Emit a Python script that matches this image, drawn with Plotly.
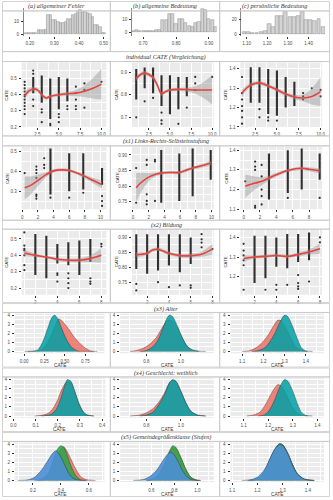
import plotly.graph_objects as go

# ---------------- DATA ----------------
# Row 0: histograms (bin centres, counts)
histA_x = [0.185,0.195,0.205,0.215,0.225,0.235,0.245,0.255,0.265,0.275,0.285,0.295,0.305,0.315,0.325,0.335,0.345,
           0.355,0.365,0.375,0.385,0.395,0.405,0.415,0.425,0.435,0.445,0.455,0.465,0.475,0.485,0.495,0.505]
histA_n = [1,1,1,1,1,3,3,3,3,15,15,11,11,10,9,9,10,12,12,15,16,18,19,18,18,17,16,14,7,7,6,1,1]
histB_x = [0.67,0.68,0.69,0.70,0.71,0.72,0.73,0.74,0.75,0.76,0.77,0.78,0.79,0.80,0.81,0.82,0.83,0.84,0.85,0.86,
           0.87,0.88,0.89,0.90,0.91,0.92]
histB_n = [1,2,1,1,1,1,1,2,2,9,9,14,14,6,10,10,7,5,4,7,8,18,17,10,9,4]
histC_x = [1.09,1.11,1.13,1.15,1.17,1.19,1.21,1.23,1.25,1.27,1.29,1.31,1.33,1.35,1.37,1.39,1.41,1.43,1.45,1.47]
histC_n = [3,3,2,2,3,4,14,9,24,24,29,23,23,24,29,19,19,18,20,10]

# Scatter panels: dense point columns (x, low, high), single points, loess fit (x, y, se)
r1p1_cx = [2,3,4,5,6]
r1p1_lo = [0.41,0.35,0.25,0.31,0.36]
r1p1_hi = [0.51,0.52,0.50,0.51,0.50]
r1p1_ex = [1,1,1,1,1,1,1,1,1,1,1,2,2,2,2,3,3,3,4,4,5,5,5,6,6,7,7,7,7,7,8,8,8,10]
r1p1_ey = [0.48,0.46,0.44,0.42,0.40,0.39,0.37,0.35,0.33,0.31,0.28,0.55,0.53,0.37,0.33,0.31,0.29,0.23,0.22,0.21,
           0.28,0.26,0.23,0.33,0.31,0.45,0.41,0.37,0.33,0.31,0.47,0.43,0.32,0.48]
r1p1_fx = [1,1.5,2,2.5,3,3.5,4,5,6,7,8,9,10]
r1p1_fy = [0.394,0.424,0.436,0.43,0.40,0.38,0.39,0.40,0.406,0.41,0.422,0.44,0.466]
r1p1_se = [0.03,0.016,0.014,0.014,0.012,0.01,0.01,0.01,0.012,0.02,0.036,0.064,0.096]

r1p2_cx = [1,2,3,4,5,6,7]
r1p2_lo = [0.779,0.829,0.807,0.75,0.714,0.736,0.793]
r1p2_hi = [0.914,0.921,0.921,0.886,0.886,0.879,0.879]
r1p2_ex = [1,2,3,4,4,4,6,7,8,8,8,10]
r1p2_ey = [0.70,0.771,0.786,0.721,0.686,0.671,0.671,0.743,0.879,0.85,0.821,0.879]
r1p2_fx = [1,1.5,2,2.5,3,3.5,4,4.5,5,6,7,8,9,10]
r1p2_fy = [0.871,0.89,0.896,0.89,0.876,0.843,0.804,0.814,0.821,0.824,0.823,0.821,0.821,0.821]
r1p2_se = [0.011,0.009,0.009,0.009,0.009,0.009,0.009,0.007,0.007,0.007,0.009,0.017,0.036,0.064]

r1p3_cx = [2,3,4,5,6,7]
r1p3_lo = [1.225,1.225,1.167,1.158,1.2,1.208]
r1p3_hi = [1.408,1.408,1.40,1.392,1.358,1.333]
r1p3_ex = [1,1,1,1,1,1,1,3,3,4,4,5,8,8,8,9,10,10]
r1p3_ey = [1.358,1.275,1.242,1.208,1.183,1.15,1.117,1.192,1.15,1.15,1.133,1.133,1.275,1.258,1.242,1.30,1.292,1.258]
r1p3_fx = [1,1.5,2,2.5,3,3.5,4,5,6,7,8,9,10]
r1p3_fy = [1.275,1.30,1.317,1.325,1.328,1.322,1.312,1.292,1.27,1.255,1.25,1.258,1.283]
r1p3_se = [0.02,0.013,0.012,0.01,0.01,0.01,0.01,0.01,0.01,0.012,0.017,0.042,0.075]

r2p1_cx = [3.6,6.0,7.8,10.2]
r2p1_lo = [0.283,0.30,0.308,0.333]
r2p1_hi = [0.517,0.492,0.492,0.417]
r2p1_ex = [0.3,1.8,1.8,1.8,1.8,1.8,1.8,1.8,2.8,2.8,2.8,3.6,6.0,7.8,10.2,10.2,10.2]
r2p1_ey = [0.392,0.425,0.408,0.392,0.367,0.283,0.275,0.262,0.467,0.433,0.417,0.267,0.267,0.292,0.275,0.25,0.225]
r2p1_fx = [0.3,1,2,3,4,5,6,7,8,9,10.2]
r2p1_fy = [0.317,0.328,0.355,0.383,0.403,0.408,0.405,0.392,0.375,0.355,0.333]
r2p1_se = [0.058,0.047,0.03,0.013,0.008,0.008,0.008,0.008,0.01,0.013,0.02]

r2p2_cx = [3.6,5.9,7.6,9.9]
r2p2_lo = [0.747,0.753,0.768,0.821]
r2p2_hi = [0.916,0.905,0.921,0.916]
r2p2_ex = [0.4,0.4,1.75,1.75,1.75,1.75,1.75,2.8,2.8,2.8]
r2p2_ey = [0.858,0.747,0.774,0.753,0.742,0.884,0.868,0.884,0.879,0.753]
r2p2_fx = [0.4,1,2,3,3.6,4.5,5.9,7,7.6,9,9.9]
r2p2_fy = [0.795,0.811,0.829,0.839,0.842,0.844,0.844,0.853,0.858,0.867,0.874]
r2p2_se = [0.047,0.032,0.013,0.006,0.005,0.005,0.005,0.005,0.005,0.006,0.008]

r2p3_cx = [3.1,5.4,7.1,9.3]
r2p3_lo = [1.15,1.183,1.2,1.25]
r2p3_hi = [1.383,1.40,1.408,1.383]
r2p3_ex = [0.2,1.4,1.4,1.4,1.4,1.4,2.2,2.2,2.2,2.2,2.2,5.4,9.3]
r2p3_ey = [1.242,1.342,1.317,1.30,1.117,1.108,1.325,1.267,1.20,1.167,1.125,1.158,1.158]
r2p3_fx = [0.2,1.4,2.2,3.1,4,5.4,7.1,8,9.3]
r2p3_fy = [1.217,1.233,1.242,1.258,1.275,1.297,1.308,1.303,1.295]
r2p3_se = [0.058,0.033,0.02,0.012,0.01,0.008,0.008,0.01,0.013]

r3p1_cx = [2,3,4,5,6,7]
r3p1_lo = [0.28,0.26,0.35,0.34,0.28,0.36]
r3p1_hi = [0.53,0.52,0.47,0.48,0.49,0.50]
r3p1_ex = [1,1,1,1,1,1,1,4,4,4,5,5,5,5,7,7,7,8,8]
r3p1_ey = [0.54,0.46,0.44,0.43,0.40,0.34,0.31,0.29,0.28,0.24,0.29,0.26,0.23,0.20,0.26,0.24,0.226,0.47,0.454]
r3p1_fx = [1,2,3,4,5,6,7,8]
r3p1_fy = [0.414,0.40,0.39,0.376,0.37,0.37,0.38,0.40]
r3p1_se = [0.02,0.01,0.008,0.01,0.01,0.012,0.02,0.044]

r3p2_cx = [1,2,3,4,5,6]
r3p2_lo = [0.794,0.778,0.789,0.806,0.783,0.811]
r3p2_hi = [0.911,0.911,0.911,0.911,0.911,0.90]
r3p2_ex = [1,1,3,4,5,6,6,7,7,7,7,8]
r3p2_ey = [0.744,0.722,0.75,0.733,0.739,0.739,0.731,0.911,0.894,0.883,0.867,0.861]
r3p2_fx = [1,2,2.5,3,4,5,6,7,8]
r3p2_fy = [0.842,0.847,0.858,0.86,0.847,0.839,0.839,0.844,0.861]
r3p2_se = [0.009,0.006,0.006,0.006,0.006,0.006,0.007,0.009,0.018]

r3p3_cx = [2,3,4,5,6,7]
r3p3_lo = [1.167,1.192,1.25,1.242,1.275,1.283]
r3p3_hi = [1.408,1.408,1.40,1.417,1.417,1.425]
r3p3_ex = [1,1,1,1,1,1,3,4,4,5,6,6,6,6,7,8,8]
r3p3_ey = [1.367,1.333,1.308,1.283,1.258,1.133,1.133,1.158,1.133,1.158,1.208,1.167,1.15,1.137,1.175,1.40,1.375]
r3p3_fx = [1,2,3,4,5,6,7,8]
r3p3_fy = [1.292,1.30,1.303,1.308,1.303,1.313,1.325,1.342]
r3p3_se = [0.017,0.008,0.008,0.008,0.008,0.01,0.013,0.025]

# Density panels (x, density)
r4p1_red_x = [0.008,0.129,0.21,0.29,0.351,0.411,0.431,0.492,0.552,0.613,0.694,0.754,0.815,0.895]
r4p1_red_y = [0,0.04,0.15,1.02,2.18,3.45,3.56,3.09,2.4,1.6,0.8,0.36,0.07,0]
r4p1_tea_x = [0.048,0.109,0.169,0.230,0.290,0.331,0.371,0.411,0.452,0.512,0.573,0.653,0.734,0.855]
r4p1_tea_y = [0,0.04,0.18,1.09,2.55,3.56,4.0,3.64,2.73,1.45,0.55,0.07,0.01,0]

r4p2_red_x = [0.705,0.743,0.781,0.819,0.857,0.895,0.924,0.952,0.981,1.01,1.038,1.067,1.105]
r4p2_red_y = [0,0.11,0.36,0.8,1.53,2.73,3.45,3.35,2.55,1.38,0.51,0.15,0]
r4p2_tea_x = [0.762,0.8,0.838,0.867,0.895,0.914,0.933,0.952,0.981,1.01,1.038,1.067,1.105,1.143]
r4p2_tea_y = [0,0.11,0.55,1.27,2.55,3.45,4.0,3.82,2.73,1.45,0.55,0.18,0.04,0]

r4p3_red_x = [1.1,1.131,1.162,1.192,1.223,1.246,1.269,1.285,1.308,1.331,1.354,1.377,1.408]
r4p3_red_y = [0,0.07,0.36,0.91,1.82,2.73,3.45,3.35,2.47,1.38,0.51,0.11,0]
r4p3_tea_x = [1.146,1.177,1.208,1.231,1.254,1.277,1.3,1.315,1.338,1.362,1.38,1.4,1.431]
r4p3_tea_y = [0,0.11,0.44,1.09,2.0,3.2,4.0,3.82,2.73,1.27,0.36,0.07,0]

r5p1_red_x = [0.096,0.126,0.156,0.178,0.197,0.215,0.233,0.244,0.259,0.277,0.296,0.316,0.333,0.363]
r5p1_red_y = [0,0.07,0.29,0.8,1.64,2.73,3.56,3.82,3.71,2.62,1.31,0.4,0.11,0]
r5p1_tea_x = [0.126,0.141,0.17,0.193,0.212,0.23,0.244,0.259,0.277,0.296,0.316,0.333,0.363]
r5p1_tea_y = [0,0.04,0.18,0.73,1.82,3.2,4.0,3.82,2.73,1.38,0.44,0.11,0]

r5p2_red_x = [0.705,0.762,0.8,0.838,0.876,0.905,0.933,0.952,0.971,1.0,1.029,1.057,1.095,1.143]
r5p2_red_y = [0,0.11,0.36,0.8,1.64,2.55,3.64,3.93,3.78,2.69,1.42,0.51,0.11,0]
r5p2_tea_x = [0.762,0.8,0.838,0.876,0.905,0.933,0.952,0.971,1.0,1.029,1.057,1.095,1.143]
r5p2_tea_y = [0,0.11,0.44,1.38,2.36,3.64,4.0,3.82,2.73,1.45,0.55,0.11,0]

r5p3_red_x = [1.113,1.14,1.167,1.187,1.207,1.224,1.24,1.256,1.273,1.293,1.313,1.333,1.36]
r5p3_red_y = [0,0.11,0.44,1.16,2.18,2.98,3.45,3.2,2.36,1.27,0.44,0.11,0]
r5p3_tea_x = [1.16,1.187,1.207,1.227,1.247,1.267,1.28,1.3,1.32,1.336,1.353,1.38]
r5p3_tea_y = [0,0.15,0.73,1.82,3.2,4.0,3.82,2.73,1.27,0.36,0.07,0]

r6p1_red_x = [0.235,0.282,0.329,0.365,0.4,0.419,0.442,0.471,0.506,0.541,0.576,0.612,0.647]
r6p1_red_y = [0,0.11,0.73,2.0,3.45,3.71,3.27,2.36,1.27,0.44,0.11,0.04,0]
r6p1_grn_x = [0.212,0.259,0.306,0.341,0.376,0.4,0.424,0.447,0.471,0.506,0.541,0.576]
r6p1_grn_y = [0,0.11,0.73,2.0,3.45,3.82,3.56,2.73,1.64,0.55,0.07,0]
r6p1_blu_x = [0.094,0.165,0.212,0.259,0.306,0.341,0.365,0.388,0.424,0.459,0.494,0.541,0.588]
r6p1_blu_y = [0,0.07,0.36,1.09,2.18,2.98,3.27,2.91,1.82,0.73,0.18,0.04,0]

r6p2_red_x = [0.557,0.614,0.671,0.714,0.757,0.786,0.814,0.857,0.9,0.943,0.986,1.029]
r6p2_red_y = [0,0.15,0.73,1.75,3.09,3.64,3.49,2.47,1.2,0.36,0.07,0]
r6p2_grn_x = [0.557,0.614,0.671,0.714,0.757,0.786,0.814,0.857,0.9,0.943,0.986,1.029]
r6p2_grn_y = [0,0.15,0.8,1.82,3.2,3.82,3.64,2.55,1.27,0.36,0.07,0]
r6p2_blu_x = [0.443,0.529,0.586,0.643,0.7,0.743,0.757,0.786,0.829,0.871,0.914,0.957,1.014]
r6p2_blu_y = [0,0.11,0.44,1.09,2.18,2.91,3.09,2.98,2.18,1.09,0.36,0.07,0]

r6p3_red_x = [1.165,1.191,1.217,1.236,1.256,1.275,1.288,1.301,1.321,1.34,1.36,1.386,1.425]
r6p3_red_y = [0,0.11,0.51,1.4,2.69,3.64,4.0,3.89,2.95,1.71,0.69,0.15,0]
r6p3_grn_x = [1.165,1.191,1.217,1.236,1.256,1.275,1.288,1.301,1.321,1.34,1.36,1.386,1.425]
r6p3_grn_y = [0,0.11,0.55,1.45,2.73,3.71,4.07,3.93,2.98,1.71,0.69,0.15,0]
r6p3_blu_x = [1.139,1.178,1.204,1.23,1.249,1.269,1.288,1.301,1.321,1.34,1.36,1.386,1.425]
r6p3_blu_y = [0,0.11,0.44,1.27,2.36,3.45,3.93,3.82,2.91,1.64,0.65,0.15,0]

hist_titles = ["(a) allgemeiner Fehler", "(b) allgemeine Bedeutung", "(c) persönliche Bedeutung"]
row_titles = ["individual CATE (Vergleichung)", "(x1) Links-Rechts-Selbsteinstufung", "(x2) Bildung",
              "(x3) Alter", "(x4) Geschlecht: weiblich", "(x5) Gemeindegrößenklasse (Stufen)"]

# ---------------- FIGURE ----------------
W, H = 333, 500
fig = go.Figure()
lay = {}
shapes = []
annots = []
cnt = [0]
TF = dict(family="Liberation Sans", size=4.5, color="#4D4D4D")
GREY_BG = "#EBEBEB"


def mids(v):
    if len(v) < 2:
        return []
    st = v[1] - v[0]
    ext = [v[0] - st] + list(v) + [v[-1] + st]
    return [(a + b) / 2 for a, b in zip(ext[:-1], ext[1:])]


def add_axes(xpx, ypx, xr, yr, xt, yt, xf, yf, grid=True, bg=GREY_BG):
    cnt[0] += 1
    n = cnt[0]
    s = "" if n == 1 else str(n)
    common = dict(showline=False, zeroline=False, ticks="outside", ticklen=2, tickwidth=0.5,
                  tickcolor="#333333", tickfont=TF, fixedrange=True, showgrid=grid,
                  gridcolor="white", gridwidth=0.7, ticklabelstandoff=1)
    xa = dict(common, domain=[xpx[0] / W, xpx[1] / W], range=xr, anchor="y" + s,
              tickmode="array", tickvals=xt, tickformat=xf)
    ya = dict(common, domain=[1 - ypx[1] / H, 1 - ypx[0] / H], range=yr, anchor="x" + s,
              tickmode="array", tickvals=yt, tickformat=yf)
    if grid:
        xa["minor"] = dict(showgrid=True, gridcolor="white", gridwidth=0.35, tickmode="array", tickvals=mids(xt))
        ya["minor"] = dict(showgrid=True, gridcolor="white", gridwidth=0.35, tickmode="array", tickvals=mids(yt))
    lay["xaxis" + s] = xa
    lay["yaxis" + s] = ya
    shapes.append(dict(type="rect", xref="x" + s + " domain", yref="y" + s + " domain",
                       x0=0, x1=1, y0=0, y1=1, fillcolor=bg, line=dict(width=0), layer="below"))
    return "x" + s, "y" + s


def label(text, xpx, ypx, size=4.6, angle=0):
    annots.append(dict(text=text, x=xpx / W, y=1 - ypx / H, xref="paper", yref="paper",
                       xanchor="center", yanchor="middle", showarrow=False, textangle=angle, borderpad=0,
                       font=dict(family="Liberation Sans", size=size, color="#333")))


def hist_panel(xpx, xr, yr, xt, yt, bx, bn, w):
    xa, ya = add_axes(xpx, (7, 35), xr, yr, xt, yt, ".2f", "d", grid=False, bg="white")
    lay["yaxis" + xa[1:]]["showline"] = True
    lay["yaxis" + xa[1:]]["linecolor"] = "#888"
    lay["yaxis" + xa[1:]]["linewidth"] = 0.5
    fig.add_trace(go.Bar(x=bx, y=bn, width=w, marker=dict(color="#D3D3D3", line=dict(color="#8C8C8C", width=0.5)),
                         xaxis=xa, yaxis=ya, showlegend=False, hoverinfo="skip"))


def scatter_panel(xpx, ypx, xr, yr, xt, yt, xf, yf, cx, lo, hi, ex, ey, fx, fy, se):
    xa, ya = add_axes(xpx, ypx, xr, yr, xt, yt, xf, yf)
    sx, sy = [], []
    for c, a, b in zip(cx, lo, hi):
        sx += [c, c, None]
        sy += [a, b, None]
    fig.add_trace(go.Scatter(x=sx, y=sy, mode="lines", line=dict(color="rgba(25,25,25,0.9)", width=2.1),
                             xaxis=xa, yaxis=ya, showlegend=False, hoverinfo="skip"))
    fig.add_trace(go.Scatter(x=ex, y=ey, mode="markers", marker=dict(color="rgba(25,25,25,0.9)", size=2.2),
                             xaxis=xa, yaxis=ya, showlegend=False, hoverinfo="skip"))
    up = [a + b for a, b in zip(fy, se)]
    dn = [a - b for a, b in zip(fy, se)]
    fig.add_trace(go.Scatter(x=fx, y=up, mode="lines", line=dict(width=0, shape="spline"),
                             xaxis=xa, yaxis=ya, showlegend=False, hoverinfo="skip"))
    fig.add_trace(go.Scatter(x=fx, y=dn, mode="lines", line=dict(width=0, shape="spline"), fill="tonexty",
                             fillcolor="rgba(150,150,150,0.45)", xaxis=xa, yaxis=ya, showlegend=False, hoverinfo="skip"))
    fig.add_trace(go.Scatter(x=fx, y=fy, mode="lines", line=dict(color="#E8413A", width=1.6, shape="spline"),
                             xaxis=xa, yaxis=ya, showlegend=False, hoverinfo="skip"))
    label("CATE", xpx[0] - 15, (ypx[0] + ypx[1]) / 2, size=4.3, angle=-90)


def density_panel(xpx, ypx, xr, xt, xf, curves):
    xa, ya = add_axes(xpx, ypx, xr, [-0.18, 4.18], xt, [0, 1, 2, 3, 4], xf, "d")
    for (cxs, cys, col) in curves:
        fig.add_trace(go.Scatter(x=cxs, y=cys, mode="lines", fill="tozeroy", fillcolor=col,
                                 line=dict(color="rgba(30,30,30,0.9)", width=0.4, shape="spline", smoothing=0.8),
                                 xaxis=xa, yaxis=ya, showlegend=False, hoverinfo="skip"))
    label("CATE", (xpx[0] + xpx[1]) / 2, ypx[1] + 12.3, size=4.8)


# Row 0 histograms
hist_panel((22, 107), [0.175, 0.515], [-1.35, 20.9], [0.2, 0.3, 0.4, 0.5], [0, 10], histA_x, histA_n, 0.0095)
hist_panel((132, 218), [0.666, 0.924], [-2.5, 18.4], [0.7, 0.8, 0.9], [0, 10], histB_x, histB_n, 0.0095)
hist_panel((243, 328), [1.075, 1.48], [-2.3, 35], [1.1, 1.2, 1.3, 1.4], [0, 20], histC_x, histC_n, 0.019)

XP = [(20, 106), (132, 215), (242, 325)]
# Row 1
r1 = (62, 127)
scatter_panel(XP[0], r1, [0.65, 10.58], [0.2, 0.6], [2.5, 5, 7.5, 10], [0.2, 0.3, 0.4, 0.5], ".1f", ".1f",
              r1p1_cx, r1p1_lo, r1p1_hi, r1p1_ex, r1p1_ey, r1p1_fx, r1p1_fy, r1p1_se)
scatter_panel(XP[1], r1, [0.5, 10.2], [0.657, 0.943], [2.5, 5, 7.5, 10], [0.7, 0.8, 0.9], ".1f", ".1f",
              r1p2_cx, r1p2_lo, r1p2_hi, r1p2_ex, r1p2_ey, r1p2_fx, r1p2_fy, r1p2_se)
scatter_panel(XP[2], r1, [0.81, 10.18], [1.1, 1.433], [2.5, 5, 7.5, 10], [1.1, 1.2, 1.3, 1.4], ".1f", ".1f",
              r1p3_cx, r1p3_lo, r1p3_hi, r1p3_ex, r1p3_ey, r1p3_fx, r1p3_fy, r1p3_se)
# Row 2
r2 = (147, 210)
scatter_panel(XP[0], r2, [-0.08, 10.76], [0.208, 0.525], [0, 2, 4, 6, 8, 10], [0.3, 0.4, 0.5], "d", ".1f",
              r2p1_cx, r2p1_lo, r2p1_hi, r2p1_ex, r2p1_ey, r2p1_fx, r2p1_fy, r2p1_se)
scatter_panel(XP[1], r2, [-0.125, 10.29], [0.726, 0.926], [0, 2, 4, 6, 8, 10], [0.75, 0.8, 0.85, 0.9], "d", ".2f",
              r2p2_cx, r2p2_lo, r2p2_hi, r2p2_ex, r2p2_ey, r2p2_fx, r2p2_fy, r2p2_se)
scatter_panel(XP[2], r2, [-0.4, 9.6], [1.1, 1.417], [0, 2, 4, 6, 8], [1.1, 1.2, 1.3, 1.4], "d", ".1f",
              r2p3_cx, r2p3_lo, r2p3_hi, r2p3_ex, r2p3_ey, r2p3_fx, r2p3_fy, r2p3_se)
# Row 3
r3 = (230, 296)
scatter_panel(XP[0], r3, [0.76, 8.46], [0.16, 0.56], [2, 4, 6, 8], [0.2, 0.3, 0.4, 0.5], "d", ".1f",
              r3p1_cx, r3p1_lo, r3p1_hi, r3p1_ex, r3p1_ey, r3p1_fx, r3p1_fy, r3p1_se)
scatter_panel(XP[1], r3, [0.61, 8.12], [0.708, 0.928], [2, 4, 6, 8], [0.75, 0.8, 0.85, 0.9], "d", ".2f",
              r3p2_cx, r3p2_lo, r3p2_hi, r3p2_ex, r3p2_ey, r3p2_fx, r3p2_fy, r3p2_se)
scatter_panel(XP[2], r3, [0.7, 8.2], [1.108, 1.442], [2, 4, 6, 8], [1.1, 1.2, 1.3, 1.4], "d", ".1f",
              r3p3_cx, r3p3_lo, r3p3_hi, r3p3_ex, r3p3_ey, r3p3_fx, r3p3_fy, r3p3_se)

RED = "rgba(238,110,100,0.85)"
TEAL = "rgba(0,160,165,0.85)"
GRN = "rgba(40,165,70,0.85)"
BLU = "rgba(75,142,212,0.9)"
DP = [(13, 104), (120, 215), (232, 327)]
r4 = (315, 355)
density_panel(DP[0], r4, [-0.113, 0.984], [0, 0.25, 0.5, 0.75, 1.0], ".2f",
              [(r4p1_red_x, r4p1_red_y, RED), (r4p1_tea_x, r4p1_tea_y, TEAL)])
density_panel(DP[1], r4, [0.648, 1.19], [0.8, 1.0], ".1f",
              [(r4p2_red_x, r4p2_red_y, RED), (r4p2_tea_x, r4p2_tea_y, TEAL)])
density_panel(DP[2], r4, [1.046, 1.485], [1.1, 1.2, 1.3, 1.4], ".1f",
              [(r4p3_red_x, r4p3_red_y, RED), (r4p3_tea_x, r4p3_tea_y, TEAL)])
r5 = (380, 420)
density_panel((10, 105), r5, [-0.007, 0.415], [0, 0.1, 0.2, 0.3, 0.4], ".1f",
              [(r5p1_red_x, r5p1_red_y, RED), (r5p1_tea_x, r5p1_tea_y, TEAL)])
density_panel(DP[1], r5, [0.648, 1.19], [0.8, 1.0], ".1f",
              [(r5p2_red_x, r5p2_red_y, RED), (r5p2_tea_x, r5p2_tea_y, TEAL)])
density_panel(DP[2], r5, [1.047, 1.427], [1.1, 1.2, 1.3, 1.4], ".1f",
              [(r5p3_red_x, r5p3_red_y, RED), (r5p3_tea_x, r5p3_tea_y, TEAL)])
r6 = (445, 485)
density_panel(DP[0], r6, [0.071, 0.711], [0.2, 0.4, 0.6], ".1f",
              [(r6p1_red_x, r6p1_red_y, RED), (r6p1_grn_x, r6p1_grn_y, GRN), (r6p1_blu_x, r6p1_blu_y, BLU)])
density_panel(DP[1], r6, [0.329, 1.143], [0.6, 0.8, 1.0], ".1f",
              [(r6p2_red_x, r6p2_red_y, RED), (r6p2_grn_x, r6p2_grn_y, GRN), (r6p2_blu_x, r6p2_blu_y, BLU)])
density_panel(DP[2], r6, [1.094, 1.464], [1.1, 1.2, 1.3, 1.4], ".1f",
              [(r6p3_red_x, r6p3_red_y, RED), (r6p3_grn_x, r6p3_grn_y, GRN), (r6p3_blu_x, r6p3_blu_y, BLU)])


# ---------------- frames & titles ----------------
def box(x0, y0, x1, y1):
    shapes.append(dict(type="rect", xref="paper", yref="paper", x0=x0 / W, x1=x1 / W, y0=1 - y1 / H, y1=1 - y0 / H,
                       line=dict(color="#C8C8C8", width=0.8), fillcolor="rgba(0,0,0,0)", layer="above"))


def title(text, xc, yc, size=6.2):
    annots.append(dict(text="<i>" + text + "</i>", x=xc / W, y=1 - yc / H, xref="paper", yref="paper",
                       xanchor="center", yanchor="middle", showarrow=False, borderpad=0,
                       font=dict(family="Liberation Serif", size=size, color="#333")))


COLS = [(0.5, 110), (110, 221), (221, 332.5)]
for (a, b), t in zip(COLS, hist_titles):
    box(a, 0.5, b, 10)
    box(a, 10, b, 51)
    title(t, (a + b) / 2, 5.4)

row_spans = [(51, 61, 136), (136, 146, 221), (221, 230, 304), (305, 314, 369), (370, 379, 434), (435, 444, 499.5)]
for (t0, t1, r_end), t in zip(row_spans, row_titles):
    box(0.5, t0, 332.5, t1)
    title(t, 166.5, (t0 + t1) / 2 + 0.5)
    for a, b in COLS:
        box(a, t1, b, r_end)

lay.update(dict(width=W, height=H, margin=dict(l=0, r=0, t=0, b=0), paper_bgcolor="white",
                plot_bgcolor="rgba(0,0,0,0)", shapes=shapes, annotations=annots, showlegend=False,
                bargap=0))
fig.update_layout(**lay)
fig.write_html("out.html")
